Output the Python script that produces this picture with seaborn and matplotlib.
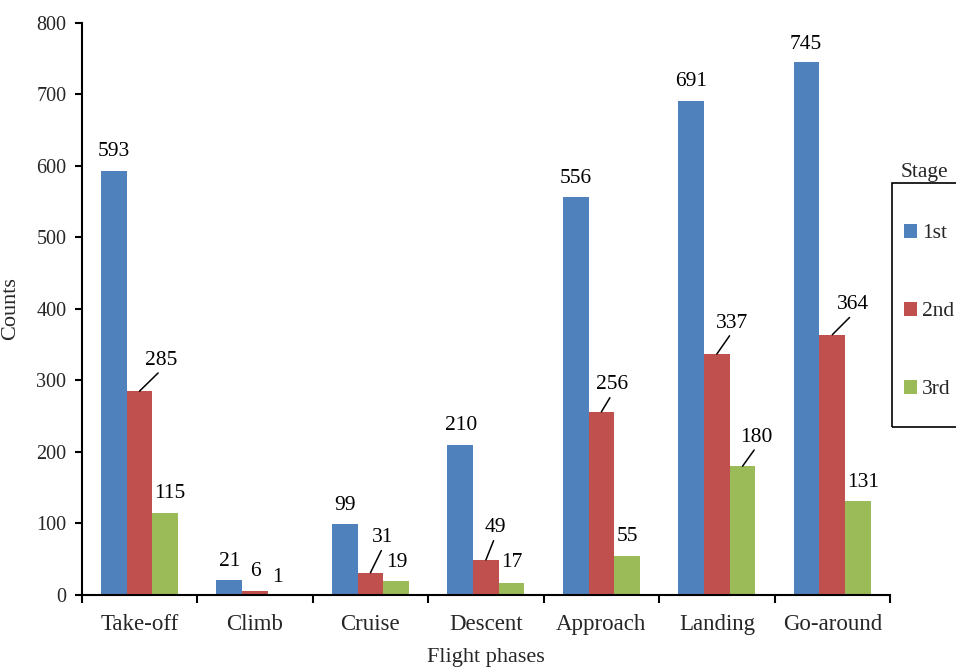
import matplotlib
matplotlib.use("Agg")
import matplotlib.pyplot as plt
from matplotlib.patches import Rectangle
import seaborn as sns
import pandas as pd

# Data
phases = ["Take-off", "Climb", "Cruise", "Descent", "Approach", "Landing", "Go-around"]
stages = ["1st", "2nd", "3rd"]
first = [593, 21, 99, 210, 556, 691, 745]
second = [285, 6, 31, 49, 256, 337, 364]
third = [115, 1, 19, 17, 55, 180, 131]
yticks = [0, 100, 200, 300, 400, 500, 600, 700, 800]

colors = ["#4F81BD", "#C0504D", "#9BBB59"]

rows = []
for stage, vals in zip(stages, [first, second, third]):
    for ph, v in zip(phases, vals):
        rows.append({"Flight phases": ph, "Stage": stage, "Counts": v})
df = pd.DataFrame(rows)

sns.set_theme(style="white")
plt.rcParams["font.family"] = ["Liberation Serif", "DejaVu Serif"]

fig = plt.figure(figsize=(9.56, 6.70), dpi=100)
ax = fig.add_axes([0.0855, 0.112, 0.8455, 0.8537])

sns.barplot(data=df, x="Flight phases", y="Counts", hue="Stage",
            order=phases, hue_order=stages, palette=colors,
            width=0.667, saturation=1, legend=False, ax=ax,
            errorbar=None, linewidth=0)

ax.set_ylim(0, 800)
ax.set_xlim(-0.5, len(phases) - 0.5)
ax.set_yticks(yticks)
ax.set_yticklabels([str(t) for t in yticks], fontsize=14.5)
ax.tick_params(axis="y", direction="out", length=5, width=1.5, color="black",
               left=True, pad=6)
ax.set_xticks(range(len(phases)))
ax.set_xticklabels(phases, fontsize=16.5)
ax.set_xticks([i - 0.5 for i in range(len(phases) + 1)], minor=True)
ax.tick_params(axis="x", which="major", length=0, pad=14)
ax.tick_params(axis="x", which="minor", direction="out", length=6, width=1.5,
               color="black", bottom=True)

for side in ["top", "right"]:
    ax.spines[side].set_visible(False)
for side in ["left", "bottom"]:
    ax.spines[side].set_color("black")
    ax.spines[side].set_linewidth(1.5)

ax.set_xlabel("Flight phases", fontsize=16, labelpad=9)
ax.set_ylabel("Counts", fontsize=16, labelpad=12)

# Value labels: (dx, dy) offset in pixels from bar top, and whether a leader line is drawn
offsets = [
    [(0, 19, False), (0, 18, False), (0, 19, False), (1, 19, False), (0, 19, False), (0, 19, False), (-1, 18, False)],
    [(22, 31, True), (0, 19, False), (12.5, 35, True), (9, 32, True), (10.5, 27, True), (15, 31, True), (20.5, 30, True)],
    [(4.5, 19, False), (-3, 17, False), (1, 19, False), (0.5, 20, False), (0, 19, False), (14, 29, True), (5, 19, False)],
]

for si, (container, vals) in enumerate(zip(ax.containers, [first, second, third])):
    for bi, (bar, v) in enumerate(zip(container, vals)):
        dx, dy, leader = offsets[si][bi]
        xc = bar.get_x() + bar.get_width() / 2
        kw = {}
        if leader:
            kw["arrowprops"] = dict(arrowstyle="-", color="black", lw=1.1,
                                    shrinkA=0, shrinkB=0, relpos=(0.5, 0))
        ax.annotate(str(v), xy=(xc, v), xytext=(dx, dy), textcoords="offset pixels",
                    ha="center", va="center", fontsize=15.5, color="black", **kw)

# Legend
handles = [Rectangle((0, 0), 1, 1, facecolor=c, edgecolor="none") for c in colors]
fig.legend(handles, stages, loc="upper left",
           bbox_to_anchor=(904 / 956, 1 - 224 / 670), frameon=False,
           fontsize=15.5, handlelength=0.6, handleheight=0.6, handletextpad=0.25,
           labelspacing=2.72, borderpad=0, borderaxespad=0)
fig.text(924 / 956, 1 - 172 / 670, "Stage", fontsize=15.5, ha="center", va="center")
fig.patches.append(Rectangle((892 / 956, 1 - 427 / 670), 0.2, 244 / 670,
                             transform=fig.transFigure, fill=False,
                             edgecolor="black", linewidth=1.2, clip_on=False))

fig.savefig("out.png", dpi=100)
